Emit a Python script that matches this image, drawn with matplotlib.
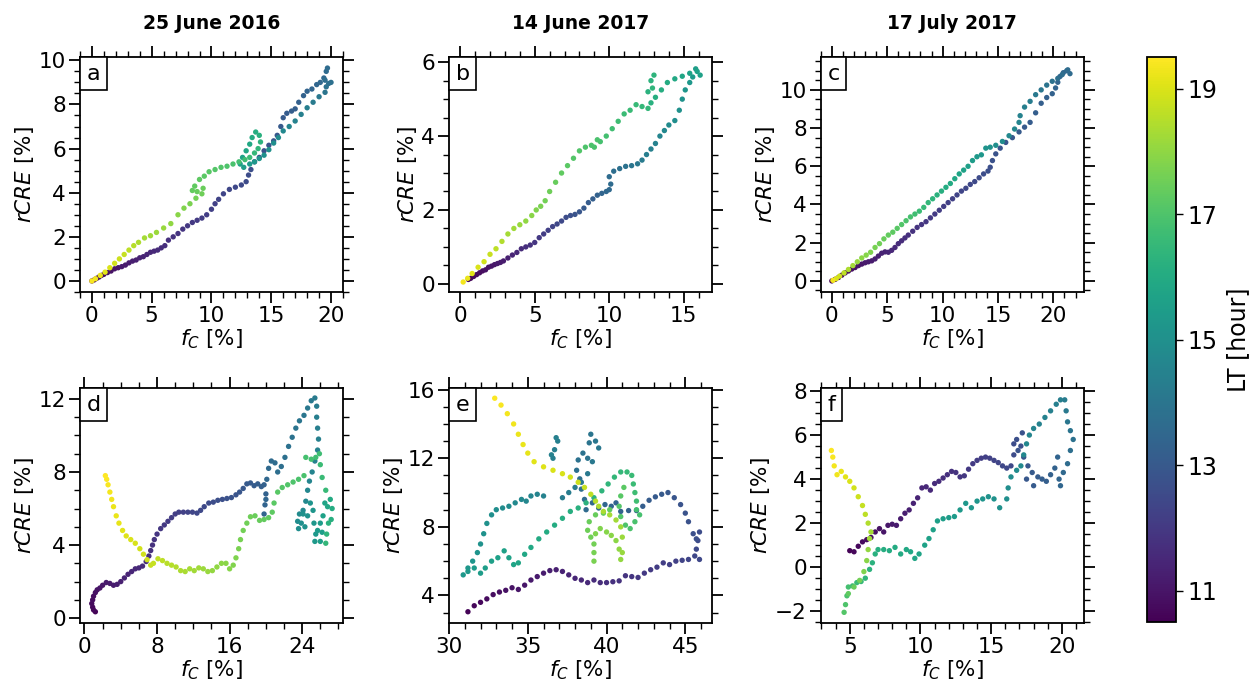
import numpy as np
import matplotlib
matplotlib.use("Agg")
import matplotlib.pyplot as plt
from matplotlib.ticker import MultipleLocator
from matplotlib.offsetbox import AnchoredText

# panel a: 25 June 2016, first row
a_fc = [0.0,0.2,0.4,0.6,0.8,1.0,1.3,1.6,1.9,2.2,2.5,2.8,3.1,3.4,3.7,4.0,4.3,4.6,4.9,5.2,5.5,5.8,6.1,6.4,6.8,7.2,7.6,8.0,8.4,8.8,9.2,9.6,10.0,10.3,10.6,11.0,11.5,12.0,12.5,12.9,13.1,13.3,13.6,14.0,14.4,14.8,15.2,15.5,15.8,16.0,16.3,16.7,17.0,17.3,17.7,18.0,18.4,18.8,19.1,19.4,19.6,19.7,19.5,19.8,20.0,19.6,
        19.5,19.0,18.5,18.0,17.5,17.0,16.5,16.0,15.6,15.2,14.8,14.4,14.0,13.6,13.2,12.7,12.4,12.6,12.9,13.2,13.4,13.7,14.0,14.1,13.9,13.6,13.2,12.8,12.3,11.8,11.3,10.8,10.3,9.8,9.4,9.0,8.6,8.4,8.8,9.3,9.2,8.7,8.2,7.7,7.2,6.6,6.0,5.4,4.9,4.4,3.9,3.5,3.1,2.7,2.3,1.9,1.5,1.1,0.7,0.3,0.0]
a_rcre = [0.0,0.05,0.12,0.18,0.25,0.3,0.38,0.45,0.55,0.6,0.65,0.72,0.82,0.9,0.95,1.05,1.1,1.2,1.3,1.35,1.4,1.5,1.6,1.85,2.0,2.15,2.35,2.5,2.65,2.75,2.85,3.0,3.25,3.5,3.7,3.95,4.15,4.25,4.35,4.5,4.8,5.05,5.4,5.6,5.9,6.15,6.35,6.6,7.0,7.4,7.6,7.7,7.8,8.1,8.4,8.6,8.7,8.9,9.0,9.2,9.5,9.65,9.1,8.95,9.0,8.8,
          8.55,8.35,8.1,7.85,7.55,7.25,7.0,6.8,6.5,6.25,5.95,5.7,5.55,5.4,5.3,5.15,5.3,5.6,5.9,6.2,6.5,6.75,6.6,6.3,6.0,5.8,5.6,5.5,5.4,5.3,5.2,5.15,5.05,4.95,4.75,4.6,4.3,4.1,4.05,4.2,3.95,3.75,3.5,3.3,3.0,2.6,2.4,2.2,2.05,1.95,1.75,1.6,1.4,1.2,1.0,0.8,0.6,0.4,0.25,0.1,0.0]
a_lt = [10.6,10.65,10.7,10.75,10.8,10.85,10.9,10.95,11.0,11.05,11.1,11.15,11.2,11.25,11.3,11.35,11.4,11.45,11.5,11.55,11.6,11.65,11.7,11.75,11.8,11.85,11.9,11.95,12.0,12.05,12.1,12.15,12.2,12.25,12.3,12.35,12.4,12.45,12.5,12.55,12.6,12.65,12.7,12.75,12.8,12.85,12.9,12.95,13.0,13.05,13.1,13.15,13.2,13.25,13.3,13.35,13.4,13.45,13.5,13.55,13.6,13.65,13.7,13.75,13.8,13.85,
        14.0,14.1,14.2,14.3,14.4,14.5,14.6,14.7,14.8,14.9,15.0,15.1,15.2,15.3,15.4,15.5,15.6,15.7,15.8,15.9,16.0,16.1,16.2,16.3,16.4,16.5,16.6,16.7,16.8,16.9,17.0,17.05,17.1,17.15,17.2,17.25,17.3,17.35,17.4,17.45,17.5,17.6,17.7,17.8,17.9,18.0,18.1,18.15,18.2,18.3,18.4,18.5,18.6,18.7,18.8,18.9,19.0,19.1,19.2,19.3,19.4]

# panel b: 14 June 2017, first row
b_fc = [0.55,0.7,0.9,1.1,1.3,1.5,1.7,1.9,2.1,2.3,2.5,2.7,2.9,3.2,3.5,3.8,4.1,4.4,4.7,5.0,5.3,5.6,5.9,6.2,6.5,6.8,7.1,7.4,7.7,8.0,8.3,8.6,8.9,9.2,9.5,9.8,10.0,10.1,10.0,10.3,10.7,11.1,11.5,11.9,12.2,12.5,12.8,13.1,13.4,13.7,14.0,14.4,14.7,14.9,15.1,15.4,15.6,15.8,16.1,15.9,
        15.4,14.9,14.4,13.9,13.5,13.1,12.8,12.6,12.8,13.0,12.9,12.6,12.2,11.8,11.4,11.0,10.6,10.2,9.8,9.4,9.0,9.2,8.8,8.4,8.0,7.6,7.2,6.8,6.4,6.0,5.7,5.4,5.1,4.8,4.4,4.0,3.6,3.2,2.8,2.4,2.0,1.6,1.2,0.8,0.5,0.2]
b_rcre = [0.12,0.15,0.2,0.25,0.3,0.35,0.38,0.45,0.48,0.52,0.55,0.58,0.62,0.7,0.78,0.85,0.95,1.0,1.05,1.12,1.25,1.35,1.45,1.55,1.62,1.7,1.8,1.85,1.88,1.95,2.05,2.2,2.3,2.4,2.45,2.5,2.55,2.7,2.9,3.05,3.12,3.18,3.2,3.25,3.35,3.5,3.65,3.8,4.0,4.15,4.3,4.42,4.7,5.0,5.25,5.45,5.6,5.82,5.65,5.75,
          5.7,5.62,5.55,5.45,5.25,5.05,4.9,5.2,5.5,5.65,5.3,4.75,4.8,4.85,4.7,4.6,4.4,4.2,4.0,3.85,3.7,3.9,3.75,3.7,3.6,3.4,3.2,3.0,2.75,2.5,2.25,2.1,2.0,1.85,1.7,1.6,1.5,1.35,1.15,0.95,0.8,0.6,0.45,0.28,0.15,0.05]
b_lt = [10.6,10.65,10.7,10.75,10.8,10.85,10.9,10.95,11.0,11.05,11.1,11.15,11.2,11.3,11.4,11.5,11.6,11.7,11.8,11.9,12.0,12.1,12.2,12.3,12.4,12.5,12.6,12.7,12.8,12.9,13.0,13.1,13.2,13.3,13.4,13.5,13.55,13.6,13.65,13.7,13.8,13.9,14.0,14.1,14.2,14.3,14.4,14.5,14.6,14.7,14.8,14.9,15.0,15.1,15.2,15.3,15.4,15.5,15.6,15.65,
        15.7,15.8,15.9,16.0,16.1,16.15,16.2,16.25,16.3,16.35,16.4,16.45,16.5,16.55,16.6,16.65,16.7,16.75,16.8,16.85,16.9,16.93,16.96,17.0,17.05,17.1,17.2,17.3,17.4,17.5,17.6,17.7,17.8,17.9,18.0,18.1,18.2,18.3,18.45,18.6,18.75,18.9,19.0,19.1,19.2,19.35]

# panel c: 17 July 2017, first row
c_fc = [0.0,0.3,0.6,0.9,1.2,1.5,1.8,2.1,2.4,2.7,3.0,3.3,3.6,3.9,4.2,4.5,4.8,5.1,5.4,5.7,6.0,6.3,6.6,6.9,7.3,7.7,8.1,8.5,8.9,9.3,9.7,10.1,10.5,10.9,11.3,11.7,12.1,12.5,12.9,13.3,13.7,14.1,14.3,14.5,14.8,15.2,15.7,16.3,16.9,17.4,17.9,18.4,18.9,19.4,19.9,20.2,20.4,20.6,20.9,21.2,21.5,21.3,20.8,20.4,
        19.9,19.4,18.9,18.4,17.9,17.4,17.0,16.9,16.5,16.0,15.4,14.8,14.3,13.9,13.5,13.1,12.7,12.3,11.9,11.5,11.1,10.7,10.3,9.9,9.5,9.1,8.7,8.3,7.9,7.5,7.1,6.7,6.3,5.9,5.5,5.1,4.7,4.3,3.9,3.5,3.1,2.7,2.3,1.9,1.5,1.1,0.7,0.4,0.1]
c_rcre = [0.0,0.08,0.18,0.3,0.42,0.52,0.62,0.7,0.8,0.88,0.95,1.0,1.05,1.15,1.3,1.45,1.52,1.5,1.6,1.75,1.95,2.1,2.25,2.4,2.6,2.8,2.95,3.1,3.3,3.5,3.7,3.9,4.1,4.3,4.5,4.7,4.85,5.05,5.2,5.4,5.6,5.75,5.95,6.3,6.65,6.95,7.25,7.5,7.8,8.05,8.3,8.8,9.3,9.6,9.8,10.1,10.4,10.7,10.9,11.0,10.85,11.05,10.8,10.6,
          10.45,10.25,10.0,9.75,9.4,9.1,8.65,8.3,7.95,7.6,7.3,7.1,7.0,6.95,6.6,6.5,6.3,6.0,5.8,5.6,5.35,5.1,4.9,4.7,4.5,4.3,4.1,3.85,3.65,3.5,3.35,3.15,2.95,2.75,2.55,2.4,2.2,1.95,1.75,1.5,1.35,1.2,1.0,0.8,0.6,0.42,0.25,0.12,0.03]
c_lt = [10.6,10.65,10.7,10.75,10.8,10.85,10.9,10.95,11.0,11.05,11.1,11.15,11.2,11.25,11.3,11.35,11.4,11.45,11.5,11.55,11.6,11.65,11.7,11.75,11.8,11.85,11.9,11.95,12.0,12.05,12.1,12.15,12.2,12.25,12.3,12.35,12.4,12.45,12.5,12.55,12.6,12.65,12.7,12.75,12.8,12.85,12.9,12.95,13.0,13.05,13.1,13.15,13.2,13.25,13.3,13.35,13.4,13.45,13.5,13.55,13.6,13.65,13.7,13.75,
        13.85,13.95,14.05,14.15,14.25,14.35,14.45,14.55,14.65,14.75,14.85,14.95,15.05,15.15,15.25,15.35,15.45,15.55,15.65,15.75,15.85,15.95,16.05,16.15,16.25,16.35,16.45,16.55,16.65,16.75,16.85,16.95,17.05,17.15,17.25,17.35,17.45,17.55,17.65,17.75,17.85,17.95,18.1,18.25,18.4,18.6,18.8,19.0,19.3]

# panel d: 25 June 2016, second row
d_fc = [1.2,1.0,0.9,0.8,0.9,1.0,1.2,1.4,1.7,2.0,2.4,2.8,3.2,3.6,4.0,4.4,4.8,5.2,5.6,6.0,6.4,6.8,7.1,7.3,7.5,7.7,8.0,8.4,8.8,9.2,9.6,10.0,10.4,10.9,11.4,11.9,12.4,12.8,13.2,13.7,14.2,14.7,15.2,15.7,16.2,16.7,17.1,17.5,17.9,18.3,18.7,19.1,19.5,19.8,20.0,19.9,19.8,20.0,20.1,20.3,20.6,21.0,21.3,21.7,22.1,22.5,22.9,23.3,23.7,24.2,24.6,25.0,25.4,25.6,25.6,25.7,25.8,25.7,25.4,25.1,24.8,24.6,24.4,24.1,23.7,23.5,23.6,23.9,24.1,24.3,24.6,24.9,25.2,25.3,25.5,25.4,25.7,26.0,26.2,26.0,
        26.3,26.5,26.8,27.1,27.3,27.2,26.9,26.7,26.6,26.6,26.2,26.0,25.9,25.5,25.0,24.4,24.2,23.6,23.0,22.4,21.8,21.3,20.9,20.7,20.3,19.8,19.3,18.8,18.3,17.9,17.5,17.2,17.0,16.7,16.4,16.0,15.6,15.1,14.6,14.1,13.6,13.1,12.6,12.1,11.6,11.1,10.6,10.1,9.6,9.1,8.6,8.1,7.6,7.3,6.9,6.5,6.1,5.6,5.1,4.6,4.2,3.8,3.5,3.2,3.0,2.8,2.6,2.45,2.3]
d_rcre = [0.35,0.45,0.6,0.8,1.0,1.2,1.4,1.55,1.65,1.8,1.95,1.9,1.8,1.85,2.0,2.2,2.4,2.55,2.7,2.75,2.85,3.1,3.4,3.7,4.0,4.3,4.6,4.9,5.1,5.3,5.5,5.7,5.8,5.8,5.8,5.8,5.75,5.9,6.1,6.3,6.35,6.45,6.5,6.55,6.6,6.75,6.9,7.1,7.35,7.4,7.25,7.35,7.2,7.3,6.8,6.2,5.7,6.5,7.6,8.2,8.6,8.5,8.0,8.3,8.8,9.4,9.9,10.4,10.8,11.1,11.5,11.9,12.05,11.6,11.0,10.4,9.8,9.2,8.6,8.0,7.5,7.0,6.4,5.9,5.7,5.3,4.9,5.2,5.7,5.0,5.6,6.3,5.9,5.2,4.6,4.2,4.8,5.2,4.7,4.2,
          5.6,6.3,6.1,6.5,6.0,5.4,5.2,4.6,4.1,7.0,7.7,8.4,9.0,8.8,8.7,8.8,7.8,7.6,7.45,7.3,7.15,6.9,6.3,5.8,5.5,5.4,5.35,5.6,5.55,5.2,4.8,4.3,3.8,3.3,2.9,2.7,3.0,3.0,2.8,2.6,2.55,2.7,2.75,2.6,2.7,2.55,2.6,2.8,2.9,3.0,3.15,3.25,3.0,2.9,3.2,3.5,3.8,4.1,4.3,4.5,4.8,5.2,5.6,6.1,6.5,6.9,7.3,7.6,7.8]
d_lt = [10.6,10.65,10.7,10.75,10.8,10.85,10.9,10.95,11.0,11.05,11.1,11.15,11.2,11.25,11.3,11.35,11.4,11.45,11.5,11.55,11.6,11.65,11.7,11.75,11.8,11.85,11.9,11.95,12.0,12.05,12.1,12.15,12.2,12.25,12.3,12.35,12.4,12.45,12.5,12.55,12.6,12.65,12.7,12.75,12.8,12.85,12.9,12.95,13.0,13.05,13.1,13.15,13.2,13.25,13.3,13.35,13.4,13.45,13.5,13.55,13.6,13.65,13.7,13.75,13.8,13.85,13.9,13.95,14.0,14.05,14.1,14.15,14.2,14.25,14.3,14.35,14.4,14.45,14.5,14.55,14.6,14.65,14.7,14.75,14.8,14.85,14.9,14.95,15.0,15.05,15.1,15.15,15.2,15.25,15.3,15.35,15.4,15.45,15.5,15.55,
        15.65,15.75,15.85,15.95,16.05,16.15,16.25,16.35,16.45,16.55,16.6,16.65,16.7,16.75,16.8,16.85,16.9,16.95,17.0,17.05,17.1,17.15,17.2,17.25,17.3,17.35,17.4,17.45,17.5,17.55,17.6,17.65,17.7,17.75,17.8,17.85,17.9,17.95,18.0,18.05,18.1,18.15,18.2,18.25,18.3,18.35,18.4,18.45,18.5,18.55,18.6,18.65,18.7,18.75,18.8,18.85,18.9,18.95,19.0,19.05,19.1,19.15,19.2,19.25,19.3,19.35,19.4,19.45,19.5]

# panel e: 14 June 2017, second row
e_fc = [31.2,31.6,32.0,32.4,32.8,33.2,33.6,34.0,34.4,34.8,35.2,35.6,36.0,36.4,36.8,37.2,37.6,38.0,38.4,38.8,39.2,39.6,40.0,40.4,40.8,41.2,41.6,42.0,42.4,42.8,43.2,43.6,44.0,44.4,44.8,45.2,45.6,45.9,45.7,45.8,45.9,45.7,45.5,45.2,45.0,44.7,44.3,43.9,43.5,43.1,42.7,42.3,41.9,41.4,40.9,40.6,40.3,39.9,39.5,39.1,38.7,38.6,38.4,38.3,38.1,38.2,38.5,38.8,38.9,39.0,39.3,39.5,39.1,38.8,38.4,38.0,37.6,37.2,36.6,36.7,36.9,36.8,36.5,
        36.0,35.6,35.2,34.9,34.6,34.2,33.8,33.4,33.0,32.7,32.4,32.2,32.0,31.8,31.5,31.2,30.9,31.2,31.6,32.0,32.3,32.7,33.1,33.5,33.8,34.1,34.4,34.8,35.2,35.7,36.2,36.7,37.2,37.7,38.2,38.7,39.2,39.7,40.1,40.5,40.9,41.3,41.6,41.7,41.8,41.9,41.9,42.1,41.8,41.5,41.2,40.9,40.8,40.9,41.1,
        40.2,39.8,39.3,38.9,38.8,39.0,39.2,39.2,39.2,39.3,39.6,40.0,40.3,40.6,40.8,40.9,41.0,41.0,40.9,40.6,40.2,39.8,39.5,39.3,39.0,38.6,38.2,37.7,37.2,36.6,36.0,35.4,35.0,34.7,34.4,34.1,33.7,33.3,32.9]
e_rcre = [3.05,3.4,3.6,3.8,4.05,4.2,4.3,4.45,4.35,4.6,4.9,5.1,5.3,5.45,5.5,5.4,5.2,5.0,4.9,4.75,4.9,4.75,4.75,4.8,4.85,5.15,5.1,5.05,5.3,5.5,5.65,5.9,5.8,6.0,6.05,6.1,6.3,6.1,6.7,7.2,7.7,7.3,7.6,8.3,8.8,9.3,9.7,10.0,9.9,9.75,9.55,9.2,8.95,8.95,8.9,9.4,9.2,9.3,9.1,9.4,9.0,9.6,10.2,10.8,11.3,11.9,12.3,12.0,12.9,13.4,13.0,12.6,11.8,11.1,10.6,10.3,10.0,9.7,12.0,12.5,13.0,13.2,12.2,
          9.8,9.9,9.8,9.5,9.6,9.4,9.2,9.1,9.0,8.7,8.2,7.6,7.0,6.5,6.0,5.6,5.2,5.4,5.6,5.3,5.6,6.0,6.2,6.6,6.2,5.8,5.9,6.4,6.8,7.3,7.7,8.1,8.5,8.9,9.1,9.4,9.7,10.1,10.5,10.9,11.2,11.2,11.0,10.5,10.0,9.5,9.0,8.7,8.3,7.9,8.1,8.6,9.2,9.8,10.3,
          9.0,8.8,8.7,8.3,7.8,7.4,7.0,6.5,6.0,7.6,7.9,7.7,7.5,7.2,6.7,6.1,6.5,7.4,8.0,8.4,8.7,8.9,9.2,9.5,9.9,10.3,10.6,10.9,11.1,11.3,11.5,11.8,12.3,12.8,13.4,14.0,14.6,15.1,15.5]
e_lt = [10.6,10.65,10.7,10.75,10.8,10.85,10.9,10.95,11.0,11.05,11.1,11.15,11.2,11.25,11.3,11.35,11.4,11.45,11.5,11.55,11.6,11.65,11.7,11.75,11.8,11.85,11.9,11.95,12.0,12.05,12.1,12.15,12.2,12.25,12.3,12.35,12.4,12.45,12.5,12.55,12.6,12.65,12.7,12.75,12.8,12.85,12.9,12.95,13.0,13.05,13.1,13.15,13.2,13.25,13.3,13.35,13.4,13.45,13.5,13.55,13.6,13.65,13.7,13.75,13.8,13.85,13.9,13.93,13.96,14.0,14.03,14.06,14.1,14.13,14.16,14.2,14.23,14.26,14.3,14.33,14.36,14.4,14.43,
        14.5,14.55,14.6,14.65,14.7,14.75,14.8,14.85,14.9,14.95,15.0,15.05,15.1,15.15,15.2,15.25,15.3,15.35,15.4,15.45,15.5,15.55,15.6,15.65,15.7,15.75,15.8,15.85,15.9,15.95,16.0,16.05,16.1,16.15,16.2,16.25,16.3,16.35,16.4,16.45,16.5,16.55,16.6,16.65,16.7,16.75,16.8,16.85,16.9,16.95,17.0,17.05,17.1,17.15,17.2,
        17.3,17.35,17.4,17.45,17.5,17.55,17.6,17.65,17.7,17.75,17.8,17.85,17.9,17.95,18.0,18.05,18.1,18.15,18.2,18.25,18.3,18.35,18.4,18.5,18.6,18.7,18.8,18.9,18.95,19.0,19.05,19.1,19.15,19.2,19.25,19.3,19.35,19.4,19.45]

# panel f: 17 July 2017, second row
f_fc = [5.0,5.3,5.6,5.9,6.2,6.5,6.8,7.1,7.4,7.7,8.0,8.3,8.6,8.9,9.2,9.5,9.8,10.1,10.4,10.7,11.0,11.3,11.6,11.9,12.2,12.5,12.8,13.1,13.4,13.7,14.0,14.3,14.6,14.9,15.2,15.5,15.8,16.1,16.4,16.6,16.6,16.8,17.1,17.2,16.9,17.3,17.6,17.5,17.9,18.0,18.3,18.6,18.9,19.2,19.5,19.7,19.8,19.9,20.1,20.4,20.6,20.8,20.6,20.4,20.3,20.2,
        19.9,19.6,19.2,18.8,18.4,18.0,17.7,17.5,17.3,17.1,16.8,16.4,16.2,16.1,15.6,15.2,14.8,14.4,14.0,13.6,13.2,12.8,12.4,12.0,11.6,11.2,10.9,10.6,10.3,9.9,9.6,9.3,9.0,8.6,8.2,7.8,7.4,7.0,6.8,6.6,6.4,6.1,5.8,5.5,5.2,4.9,4.8,4.7,4.6,
        4.9,5.3,5.7,6.0,6.2,6.3,6.4,6.5,6.3,6.1,5.9,5.6,5.3,5.0,4.7,4.4,4.1,3.9,3.8,3.7]
f_rcre = [0.75,0.7,0.95,1.15,1.25,1.35,1.6,1.75,1.6,1.9,1.95,1.9,2.2,2.45,2.6,2.9,3.15,3.6,3.65,3.5,3.8,3.9,4.05,4.2,4.35,4.3,4.1,4.15,4.45,4.7,4.85,4.95,5.0,4.95,4.85,4.75,4.6,4.5,4.6,5.1,5.6,5.8,5.5,6.1,5.3,5.0,4.6,4.0,4.3,3.7,4.1,4.0,3.9,4.2,4.5,5.0,4.0,3.7,4.3,4.7,5.3,5.8,6.2,6.6,7.1,7.6,
          7.6,7.4,7.1,6.8,6.5,6.3,6.0,5.6,5.1,4.6,4.4,4.1,3.6,3.1,2.7,3.1,3.2,3.1,3.0,2.7,2.9,2.6,2.3,2.25,2.2,2.1,1.7,1.3,1.0,0.6,0.4,0.7,0.8,0.6,0.9,0.75,0.8,0.8,0.6,0.2,-0.1,-0.5,-0.65,-0.7,-0.85,-0.9,-1.3,-1.7,-2.05,
          -1.2,-0.9,-0.6,-0.2,0.3,0.8,1.3,1.6,2.0,2.4,2.8,3.2,3.6,3.9,4.1,4.35,4.2,4.6,5.0,5.3]
f_lt = [10.6,10.65,10.7,10.75,10.8,10.85,10.9,10.95,11.0,11.05,11.1,11.15,11.2,11.25,11.3,11.35,11.4,11.45,11.5,11.55,11.6,11.65,11.7,11.75,11.8,11.85,11.9,11.95,12.0,12.05,12.1,12.15,12.2,12.25,12.3,12.35,12.4,12.45,12.5,12.55,12.6,12.65,12.7,12.75,12.8,12.85,12.9,12.95,13.0,13.05,13.1,13.15,13.2,13.25,13.3,13.35,13.4,13.45,13.55,13.65,13.75,13.85,13.95,14.05,14.15,14.25,
        14.3,14.35,14.4,14.45,14.5,14.55,14.6,14.65,14.7,14.75,14.8,14.85,14.9,14.95,15.0,15.05,15.1,15.15,15.2,15.25,15.3,15.35,15.4,15.45,15.5,15.55,15.6,15.65,15.7,15.75,15.8,15.85,15.9,15.95,16.0,16.05,16.1,16.15,16.2,16.25,16.3,16.4,16.5,16.6,16.7,16.8,16.9,17.0,17.1,
        17.3,17.45,17.6,17.75,17.9,18.05,18.2,18.3,18.45,18.6,18.7,18.8,18.9,19.0,19.1,19.2,19.3,19.35,19.4,19.45]

titles = ["25 June 2016", "14 June 2017", "17 July 2017"]
letters = ["a", "b", "c", "d", "e", "f"]
cbar_ticks = [11, 13, 15, 17, 19]

panels = [
    (a_fc, a_rcre, a_lt, (-1, 21), (-0.5, 10.15), 5, 1, 2, 0.5),
    (b_fc, b_rcre, b_lt, (-0.75, 16.9), (-0.22, 6.14), 5, 1, 2, 0.5),
    (c_fc, c_rcre, c_lt, (-1.0, 22.75), (-0.58, 11.72), 5, 1, 2, 0.5),
    (d_fc, d_rcre, d_lt, (-0.5, 28.5), (-0.26, 12.6), 8, 2, 4, 1),
    (e_fc, e_rcre, e_lt, (30, 46.7), (2.4, 16.1), 5, 1, 4, 1),
    (f_fc, f_rcre, f_lt, (2.95, 21.55), (-2.53, 8.14), 5, 1, 2, 0.5),
]

fig = plt.figure(figsize=(12.55, 6.83), dpi=100)
lefts = [0.0637, 0.3578, 0.654]
bottoms = [0.5725, 0.088]
w, h = 0.2096, 0.344

for i, (fc, rc, lt, xl, yl, xmaj, xmin, ymaj, ymin) in enumerate(panels):
    ax = fig.add_axes([lefts[i % 3], bottoms[i // 3], w, h])
    sc = ax.scatter(fc, rc, c=lt, cmap="viridis", vmin=10.5, vmax=19.5, s=15, linewidths=0)
    ax.set_xlim(*xl)
    ax.set_ylim(*yl)
    ax.xaxis.set_major_locator(MultipleLocator(xmaj))
    ax.xaxis.set_minor_locator(MultipleLocator(xmin))
    ax.yaxis.set_major_locator(MultipleLocator(ymaj))
    ax.yaxis.set_minor_locator(MultipleLocator(ymin))
    ax.tick_params(which="both", direction="out", top=True, right=True, labelsize=15.5, pad=2)
    ax.tick_params(which="major", length=8, width=1.3)
    ax.tick_params(which="minor", length=4.5, width=1.0)
    for sp in ax.spines.values():
        sp.set_linewidth(1.3)
    ax.set_xlabel("$f_C$ [%]", fontsize=15.5, labelpad=1)
    ax.set_ylabel("$rCRE$ [%]", fontsize=15.5, labelpad=2)
    at = AnchoredText(letters[i], loc="upper left", prop=dict(size=16), frameon=True,
                      pad=0.3, borderpad=0.0)
    at.patch.set_linewidth(1.2)
    ax.add_artist(at)
    if i < 3:
        ax.set_title(titles[i], fontsize=13.5, fontweight="bold", pad=20)

cax = fig.add_axes([0.914, 0.0893, 0.0231, 0.827])
cb = fig.colorbar(sc, cax=cax)
cb.set_ticks(cbar_ticks)
cb.ax.tick_params(labelsize=17, length=5, width=1.0)
cb.outline.set_linewidth(1.3)
cb.set_label("LT [hour]", fontsize=17, labelpad=6)

fig.savefig("out.png", dpi=100)
